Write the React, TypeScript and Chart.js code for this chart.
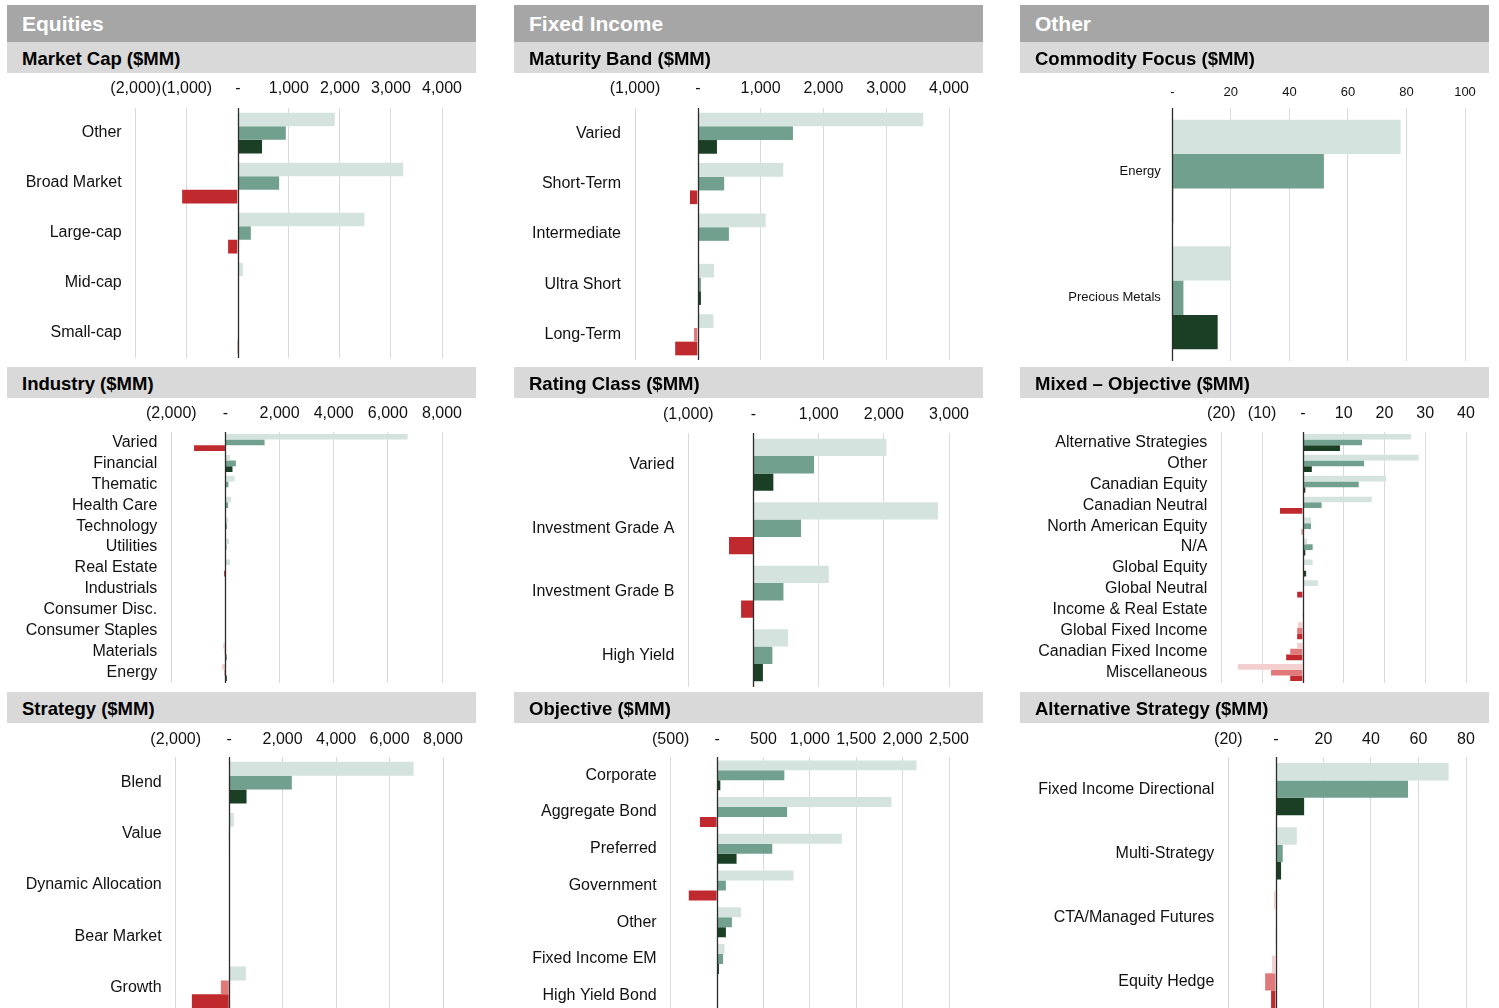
import React, { useEffect, useRef } from "react";
import { Chart, registerables } from "chart.js";

Chart.register(...registerables);

// ---------- DATA ----------
const marketCapCategories = ["Other", "Broad Market", "Large-cap", "Mid-cap", "Small-cap"];
const marketCapBar1 = [1900, 3240, 2480, 100, 0];
const marketCapBar2 = [940, 810, 255, 10, 0];
const marketCapBar3 = [475, -1090, -190, 5, -15];
const marketCapTicks = [-2000, -1000, 0, 1000, 2000, 3000, 4000];

const maturityCategories = ["Varied", "Short-Term", "Intermediate", "Ultra Short", "Long-Term"];
const maturityBar1 = [3590, 1360, 1080, 260, 250];
const maturityBar2 = [1515, 420, 495, 50, -60];
const maturityBar3 = [305, -125, 10, 50, -360];
const maturityTicks = [-1000, 0, 1000, 2000, 3000, 4000];

const commodityCategories = ["Energy", "Precious Metals"];
const commodityBar1 = [78, 20];
const commodityBar2 = [51.8, 3.8];
const commodityBar3 = [0.3, 15.5];
const commodityTicks = [0, 20, 40, 60, 80, 100];

const industryCategories = [
  "Varied", "Financial", "Thematic", "Health Care", "Technology", "Utilities",
  "Real Estate", "Industrials", "Consumer Disc.", "Consumer Staples", "Materials", "Energy",
];
const industryBar1 = [6730, 165, 335, 210, 100, 135, 175, 20, 0, 0, -85, -125];
const industryBar2 = [1445, 385, 110, 100, 60, 40, 0, 0, 0, 0, -30, -40];
const industryBar3 = [-1160, 260, 10, 5, 5, 5, -50, 0, 0, 0, 40, 50];
const industryTicks = [-2000, 0, 2000, 4000, 6000, 8000];

const ratingCategories = ["Varied", "Investment Grade A", "Investment Grade B", "High Yield"];
const ratingBar1 = [2040, 2830, 1155, 530];
const ratingBar2 = [930, 730, 460, 290];
const ratingBar3 = [305, -375, -190, 145];
const ratingTicks = [-1000, 0, 1000, 2000, 3000];

const mixedCategories = [
  "Alternative Strategies", "Other", "Canadian Equity", "Canadian Neutral",
  "North American Equity", "N/A", "Global Equity", "Global Neutral",
  "Income & Real Estate", "Global Fixed Income", "Canadian Fixed Income", "Miscellaneous",
];
const mixedBar1 = [26.5, 28.4, 20.4, 16.9, 2.0, 1.0, 2.4, 3.7, 0, -1.2, -1.4, -15.9];
const mixedBar2 = [14.5, 15.0, 13.7, 4.6, 2.0, 2.4, -0.1, 0, 0, -1.4, -3.1, -7.8];
const mixedBar3 = [9.1, 2.2, 0.6, -5.6, -0.3, 0.6, 0.8, -1.4, -0.1, -1.4, -4.1, -3.1];
const mixedTicks = [-20, -10, 0, 10, 20, 30, 40];

const strategyCategories = ["Blend", "Value", "Dynamic Allocation", "Bear Market", "Growth"];
const strategyBar1 = [6900, 175, 0, 0, 625];
const strategyBar2 = [2345, -15, 0, 0, -310];
const strategyBar3 = [650, -20, 0, 0, -1395];
const strategyTicks = [-2000, 0, 2000, 4000, 6000, 8000];

const objectiveCategories = [
  "Corporate", "Aggregate Bond", "Preferred", "Government", "Other", "Fixed Income EM", "High Yield Bond",
];
const objectiveBar1 = [2150, 1880, 1345, 825, 260, 80, 0];
const objectiveBar2 = [725, 755, 595, 95, 160, 65, 0];
const objectiveBar3 = [35, -185, 210, -305, 95, 20, 0];
const objectiveTicks = [-500, 0, 500, 1000, 1500, 2000, 2500];

const altCategories = ["Fixed Income Directional", "Multi-Strategy", "CTA/Managed Futures", "Equity Hedge"];
const altBar1 = [72.7, 8.8, -0.8, -1.6];
const altBar2 = [55.6, 2.9, 0, -4.5];
const altBar3 = [11.9, 2.2, -0.2, -2.0];
const altTicks = [-20, 0, 20, 40, 60, 80];

const sectionTitles = ["Equities", "Fixed Income", "Other"];

// ---------- STYLE ----------
const FONT = "'Liberation Sans', Arial, Helvetica, sans-serif";
const POS = ["#d4e3dd", "#72a08e", "#1b3f24"];
const NEG = ["#f4cfcf", "#e07a7a", "#c0292d"];
const COL_LEFT = [7, 514, 1020];
const COL_WIDTH = 469;

function fmt(v: number): string {
  if (v === 0) return "-";
  const s = Math.abs(v).toLocaleString("en-US");
  return v < 0 ? `(${s})` : s;
}

type PanelCfg = {
  title: string;
  col: number;
  subTop: number;
  categories: string[];
  series: number[][];
  ticks: number[];
  plotLeft: number;
  plotRight: number;
  plotTop: number;
  plotBottom: number;
  tickFont: number;
  catFont: number;
  xPad: number;
  yPad: number;
};

const zeroLine = {
  id: "zeroLine",
  afterDatasetsDraw(chart: any) {
    const x = chart.scales.x;
    const { ctx, chartArea } = chart;
    const px = Math.round(x.getPixelForValue(0)) + 0.5;
    ctx.save();
    ctx.strokeStyle = "#2b2b2b";
    ctx.lineWidth = 1.3;
    ctx.beginPath();
    ctx.moveTo(px, chartArea.top);
    ctx.lineTo(px, chartArea.bottom);
    ctx.stroke();
    ctx.restore();
  },
};

const AXIS_H = 40;
const PAD_R = 40;
const PAD_B = 30;

function Panel({ cfg }: { cfg: PanelCfg }) {
  const ref = useRef<HTMLCanvasElement>(null);
  const colLeft = COL_LEFT[cfg.col];
  const top = Math.round(cfg.plotTop) - AXIS_H;
  const yW = cfg.plotLeft - colLeft;
  const width = Math.round(cfg.plotRight - colLeft + PAD_R);
  const height = Math.round(cfg.plotBottom - Math.round(cfg.plotTop) + AXIS_H + PAD_B);

  useEffect(() => {
    if (!ref.current) return;
    const ticks = cfg.ticks;
    const chart = new Chart(ref.current, {
      type: "bar",
      data: {
        labels: cfg.categories,
        datasets: cfg.series.map((s, i) => ({
          data: s,
          backgroundColor: (c: any) => (c.raw < 0 ? NEG[i] : POS[i]),
          borderWidth: 0,
          barPercentage: 1,
          categoryPercentage: 0.815,
        })),
      },
      options: {
        indexAxis: "y",
        responsive: false,
        animation: false,
        devicePixelRatio: 1,
        layout: { padding: { left: 0, right: PAD_R, top: 0, bottom: PAD_B } },
        plugins: { legend: { display: false }, tooltip: { enabled: false } },
        scales: {
          x: {
            position: "top",
            min: ticks[0],
            max: ticks[ticks.length - 1],
            afterBuildTicks: (s: any) => {
              s.ticks = ticks.map((v) => ({ value: v }));
            },
            afterFit: (s: any) => {
              s.height = AXIS_H;
            },
            grid: {
              drawTicks: false,
              lineWidth: 1,
              color: (c: any) => (c.tick && c.tick.value === 0 ? "rgba(0,0,0,0)" : "#d9d9d9"),
            },
            border: { display: false },
            ticks: {
              padding: cfg.xPad,
              autoSkip: false,
              maxRotation: 0,
              color: "#111",
              font: { size: cfg.tickFont, family: FONT },
              callback: (v: any) => fmt(Number(v)),
            },
          },
          y: {
            afterFit: (s: any) => {
              s.width = yW;
            },
            grid: { display: false, drawTicks: false },
            border: { display: false },
            ticks: {
              padding: cfg.yPad,
              autoSkip: false,
              color: "#111",
              font: { size: cfg.catFont, family: FONT },
            },
          },
        },
      } as any,
      plugins: [zeroLine],
    });
    return () => chart.destroy();
  }, []);

  return (
    <canvas
      ref={ref}
      width={width}
      height={height}
      style={{ position: "absolute", left: colLeft, top, width, height }}
    />
  );
}

const panels: PanelCfg[] = [
  { title: "Market Cap ($MM)", col: 0, subTop: 42, categories: marketCapCategories, series: [marketCapBar1, marketCapBar2, marketCapBar3], ticks: marketCapTicks, plotLeft: 135.7, plotRight: 442.3, plotTop: 108, plotBottom: 358, tickFont: 16, catFont: 16, xPad: 9.5, yPad: 14 },
  { title: "Maturity Band ($MM)", col: 1, subTop: 42, categories: maturityCategories, series: [maturityBar1, maturityBar2, maturityBar3], ticks: maturityTicks, plotLeft: 635, plotRight: 949, plotTop: 108, plotBottom: 360, tickFont: 16, catFont: 16, xPad: 9.5, yPad: 14 },
  { title: "Commodity Focus ($MM)", col: 2, subTop: 42, categories: commodityCategories, series: [commodityBar1, commodityBar2, commodityBar3], ticks: commodityTicks, plotLeft: 1172.3, plotRight: 1465.3, plotTop: 107.5, plotBottom: 361, tickFont: 13, catFont: 13, xPad: 7.5, yPad: 11.5 },
  { title: "Industry ($MM)", col: 0, subTop: 367, categories: industryCategories, series: [industryBar1, industryBar2, industryBar3], ticks: industryTicks, plotLeft: 171.3, plotRight: 441.7, plotTop: 432.3, plotBottom: 683.3, tickFont: 16, catFont: 16, xPad: 8.5, yPad: 14 },
  { title: "Rating Class ($MM)", col: 1, subTop: 367, categories: ratingCategories, series: [ratingBar1, ratingBar2, ratingBar3], ticks: ratingTicks, plotLeft: 688.3, plotRight: 948.7, plotTop: 432.6, plotBottom: 686.6, tickFont: 16, catFont: 16, xPad: 8.5, yPad: 14 },
  { title: "Mixed – Objective ($MM)", col: 2, subTop: 367, categories: mixedCategories, series: [mixedBar1, mixedBar2, mixedBar3], ticks: mixedTicks, plotLeft: 1221.3, plotRight: 1466, plotTop: 432.3, plotBottom: 683.3, tickFont: 16, catFont: 16, xPad: 8.5, yPad: 14 },
  { title: "Strategy ($MM)", col: 0, subTop: 692, categories: strategyCategories, series: [strategyBar1, strategyBar2, strategyBar3], ticks: strategyTicks, plotLeft: 175.7, plotRight: 443.3, plotTop: 757.3, plotBottom: 1012.5, tickFont: 16, catFont: 16, xPad: 7.5, yPad: 14 },
  { title: "Objective ($MM)", col: 1, subTop: 692, categories: objectiveCategories, series: [objectiveBar1, objectiveBar2, objectiveBar3], ticks: objectiveTicks, plotLeft: 670.7, plotRight: 949.3, plotTop: 757.3, plotBottom: 1014, tickFont: 16, catFont: 16, xPad: 7.5, yPad: 14 },
  { title: "Alternative Strategy ($MM)", col: 2, subTop: 692, categories: altCategories, series: [altBar1, altBar2, altBar3], ticks: altTicks, plotLeft: 1228.3, plotRight: 1466.3, plotTop: 757.3, plotBottom: 1014, tickFont: 16, catFont: 16, xPad: 7.5, yPad: 14 },
];

export default function App() {
  return (
    <div
      style={{
        position: "fixed",
        left: 0,
        top: 0,
        width: 1499,
        height: 1008,
        overflow: "hidden",
        background: "#fff",
        fontFamily: FONT,
      }}
    >
      {panels.map((p, i) => (
        <Panel key={"c" + i} cfg={p} />
      ))}
      {sectionTitles.map((t, i) => (
        <div
          key={"s" + i}
          style={{
            position: "absolute",
            left: COL_LEFT[i],
            top: 5,
            width: COL_WIDTH,
            height: 37,
            background: "#a6a6a6",
            color: "#fff",
            fontWeight: "bold",
            fontSize: 21,
            lineHeight: "37px",
            paddingLeft: 15,
            boxSizing: "border-box",
          }}
        >
          {t}
        </div>
      ))}
      {panels.map((p, i) => (
        <div
          key={"h" + i}
          style={{
            position: "absolute",
            left: COL_LEFT[p.col],
            top: p.subTop,
            width: COL_WIDTH,
            height: 31,
            background: "#d9d9d9",
            color: "#000",
            fontWeight: "bold",
            fontSize: 18.5,
            lineHeight: "33px",
            paddingLeft: 15,
            boxSizing: "border-box",
          }}
        >
          {p.title}
        </div>
      ))}
    </div>
  );
}
